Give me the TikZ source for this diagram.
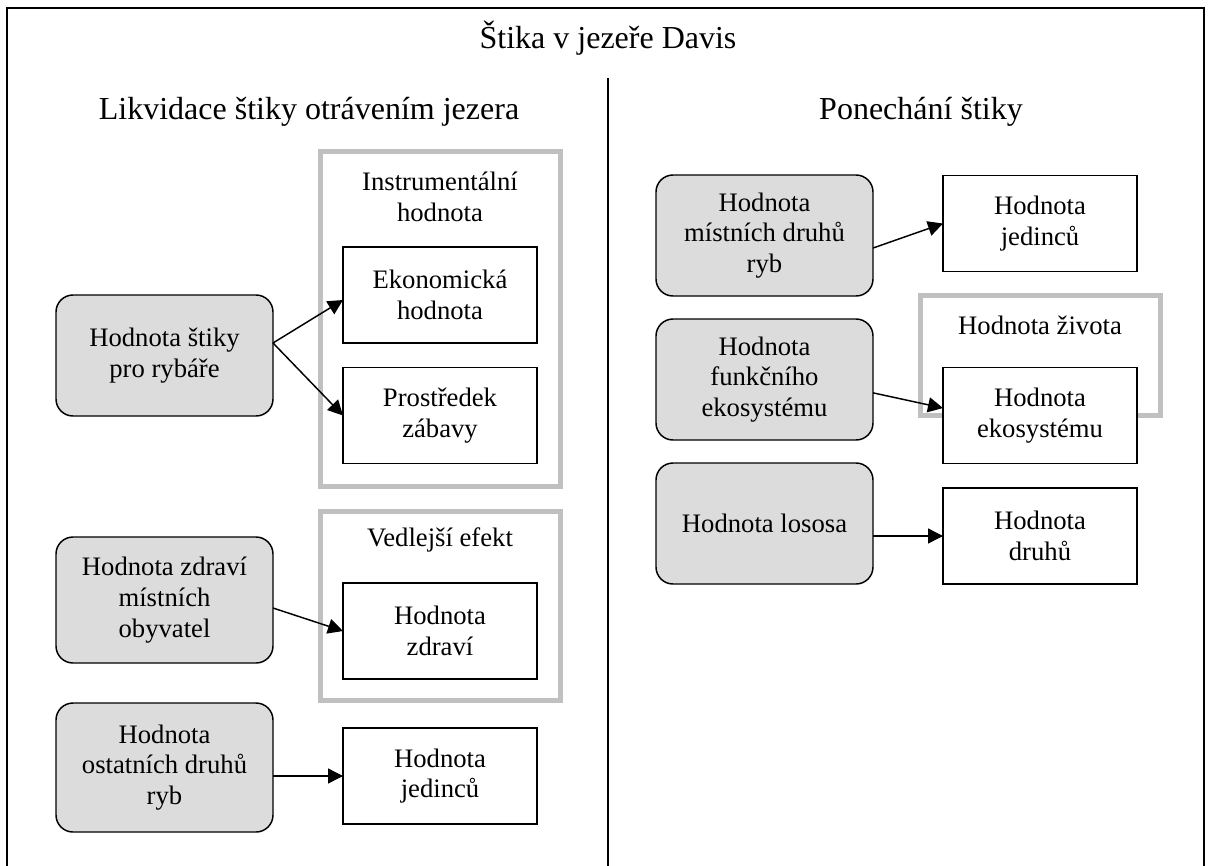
\documentclass[tikz,border=0pt]{standalone}
\usepackage{fontspec}
\setmainfont{Liberation Serif}
\usetikzlibrary{arrows.meta}
\definecolor{srcfill}{RGB}{220,220,220}
\definecolor{grpgray}{RGB}{192,192,192}
\begin{document}
\begin{tikzpicture}[x=0.75pt,y=-0.75pt,
  every node/.style={inner sep=0pt, outer sep=0pt},
  nodetext/.style={font=\fontsize{20}{23}\selectfont, align=center},
  headtext/.style={font=\fontsize{24}{28}\selectfont, anchor=base},
  valbox/.style={nodetext, draw, line width=1.1pt, fill=white,
    minimum width=145.5pt, minimum height=72pt},
  srcbox/.style={nodetext, draw, line width=1.1pt, fill=srcfill,
    rounded corners=12.75pt, minimum width=162.75pt, minimum height=90.75pt},
  grpframe/.style={draw=grpgray, line width=3.75pt, minimum width=180pt},
  link/.style={line width=1.1pt, -{Triangle[length=11.25pt,width=11.25pt]}},
  rule/.style={line width=1.5pt}
]
\useasboundingbox (0,0) rectangle (1210,865);

% outer frame and column divider
\draw[rule] (7,866) -- (7,8) -- (1204,8) -- (1204,866);
\draw[rule] (608,78) -- (608,866);

% headings
\node[headtext] (title) at (608,48) {Štika v jezeře Davis};
\node[headtext] (leftHead) at (309,119) {Likvidace štiky otrávením jezera};
\node[headtext] (rightHead) at (921,119) {Ponechání štiky};

% grey grouping frames
\node[grpframe, minimum height=251.25pt] (instr) at (440.5,319) {};
\node[nodetext] (instrLabel) at (440,197) {Instrumentální\\hodnota};
\node[grpframe, minimum height=141.75pt] (side) at (440.5,606) {};
\node[nodetext] (sideLabel) at (440,540) {Vedlejší efekt};
\node[grpframe, minimum height=90pt] (life) at (1040.5,355.5) {};
\node[nodetext] (lifeLabel) at (1040,325) {Hodnota života};

% left column: sources
\node[srcbox] (fish) at (164.5,355.5) {Hodnota štiky\\pro rybáře};
\node[srcbox, minimum height=94.5pt] (health) at (164.5,600) {Hodnota zdraví\\místních\\obyvatel};
\node[srcbox, minimum height=96.75pt] (others) at (164.5,767.5) {Hodnota\\ostatních druhů\\ryb};

% left column: values
\node[valbox] (econ) at (440,295) {Ekonomická\\hodnota};
\node[valbox] (fun) at (440,415.5) {Prostředek\\zábavy};
\node[valbox] (healthVal) at (440,631) {Hodnota\\zdraví};
\node[valbox] (indivL) at (440,776) {Hodnota\\jedinců};

% right column: sources
\node[srcbox] (native) at (764.5,235.5) {Hodnota\\místních druhů\\ryb};
\node[srcbox] (eco) at (764.5,379.5) {Hodnota\\funkčního\\ekosystému};
\node[srcbox] (salmon) at (764.5,523.5) {Hodnota lososa};

% right column: values
\node[valbox] (indivR) at (1040,223.5) {Hodnota\\jedinců};
\node[valbox] (ecoVal) at (1040,415.5) {Hodnota\\ekosystému};
\node[valbox] (species) at (1040,536) {Hodnota\\druhů};

% connectors
\draw[link] ([yshift=9.4pt]fish.east) -- ([yshift=-3.75pt]econ.west);
\draw[link] ([yshift=9.4pt]fish.east) -- (fun.west);
\draw[link] ([yshift=-6pt]health.east) -- (healthVal.west);
\draw[link] (others.east |- indivL.west) -- (indivL.west);
\draw[link] ([yshift=-9.4pt]native.east) -- (indivR.west);
\draw[link] ([yshift=-10pt]eco.east) -- ([yshift=5.6pt]ecoVal.west);
\draw[link] (salmon.east |- species.west) -- (species.west);
\end{tikzpicture}
\end{document}
